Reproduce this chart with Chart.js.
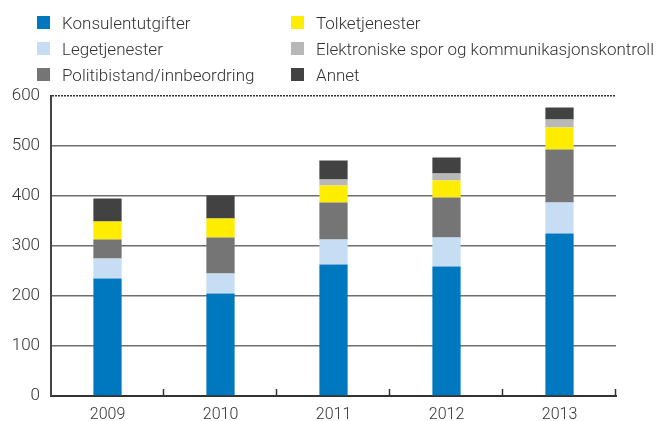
<!DOCTYPE html>
<html>
<head>
<meta charset="utf-8">
<script src="https://cdn.jsdelivr.net/npm/chart.js@4.4.1/dist/chart.umd.min.js"></script>
<style>
    html, body { margin: 0; padding: 0; background: #fff; }
    #wrap { position: relative; width: 664px; height: 421px; }
    #chart { position: absolute; left: 0; top: 0; }
    #legend { position: absolute; left: 37px; top: 12px; display: grid;
              grid-template-columns: 254px auto; row-gap: 5px;
              font-family: Roboto, sans-serif; font-weight: 300; font-size: 17px; color: #333; }
    .item { display: flex; align-items: center; height: 21px; white-space: nowrap; }
    .box { width: 13px; height: 13px; margin-right: 12px; flex: none; }
</style>
</head>
<body>
<div id="wrap">
    <canvas id="chart" width="664" height="421"></canvas>
    <div id="legend"></div>
</div>
<script>
const years = ["2009", "2010", "2011", "2012", "2013"];

const konsulentutgifter = [235, 205, 263, 259, 325];
const legetjenester     = [40, 40, 50, 58, 62];
const politibistand     = [38, 72, 74, 80, 106];
const tolketjenester    = [36, 38, 34, 34, 44];
const elektroniskeSpor  = [0, 0, 12, 14, 16];
const annet             = [46, 46, 38, 32, 24];

const yTicks = [0, 100, 200, 300, 400, 500, 600];

const series = [
    { label: "Konsulentutgifter", data: konsulentutgifter, color: "#0078bf" },
    { label: "Legetjenester", data: legetjenester, color: "#c6ddf3" },
    { label: "Politibistand/innbeordring", data: politibistand, color: "#757575" },
    { label: "Tolketjenester", data: tolketjenester, color: "#ffed00" },
    { label: "Elektroniske spor og kommunikasjonskontroll", data: elektroniskeSpor, color: "#b8b8b8" },
    { label: "Annet", data: annet, color: "#424242" }
];

// legend: two columns, filled column by column
const legendEl = document.getElementById("legend");
const legendOrder = [0, 3, 1, 4, 2, 5];
legendOrder.forEach(i => {
    const s = series[i];
    const item = document.createElement("div");
    item.className = "item";
    const box = document.createElement("span");
    box.className = "box";
    box.style.background = s.color;
    const txt = document.createElement("span");
    txt.textContent = s.label;
    item.appendChild(box);
    item.appendChild(txt);
    legendEl.appendChild(item);
});

// small upward ticks between the categories
const categoryTicks = {
    id: "categoryTicks",
    afterDraw(chart) {
        const x = chart.scales.x;
        const ctx = chart.ctx;
        const n = years.length;
        ctx.save();
        ctx.strokeStyle = "#333";
        ctx.lineWidth = 1.5;
        for (let i = 1; i <= n; i++) {
            const px = Math.round(x.left + i * x.width / n) - 0.5;
            ctx.beginPath();
            ctx.moveTo(px, x.top);
            ctx.lineTo(px, x.top - 7);
            ctx.stroke();
        }
        ctx.restore();
    }
};

new Chart(document.getElementById("chart"), {
    type: "bar",
    data: {
        labels: years,
        datasets: series.map(s => ({
            label: s.label,
            data: s.data,
            backgroundColor: s.color,
            borderWidth: 0,
            barPercentage: 0.25,
            categoryPercentage: 1.0
        }))
    },
    options: {
        responsive: false,
        animation: false,
        layout: { padding: { top: 96, right: 48, left: 0, bottom: 0 } },
        plugins: { legend: { display: false }, tooltip: { enabled: false } },
        scales: {
            x: {
                stacked: true,
                grid: { display: false, drawTicks: false },
                border: { display: true, color: "#333", width: 2 },
                ticks: {
                    color: "#333",
                    padding: 9,
                    font: { family: "Roboto", size: 16, weight: 300 }
                },
                afterFit: scale => { scale.height = 25; }
            },
            y: {
                stacked: true,
                min: 0,
                max: 600,
                afterBuildTicks: scale => { scale.ticks = yTicks.map(v => ({ value: v })); },
                grid: {
                    drawTicks: false,
                    color: ctx => ctx.tick && ctx.tick.value === 0 ? "rgba(0,0,0,0)" : (ctx.tick && ctx.tick.value === 600 ? "#333" : "#6e6e6e"),
                    lineWidth: 1.5
                },
                border: {
                    display: true,
                    color: "#444",
                    width: 2,
                    dash: ctx => ctx.tick && ctx.tick.value === 600 ? [2, 1] : []
                },
                ticks: {
                    color: "#333",
                    padding: 11,
                    font: { family: "Roboto", size: 17, weight: 300 }
                },
                afterFit: scale => { scale.width = 51; }
            }
        }
    },
    plugins: [categoryTicks]
});
</script>
</body>
</html>
